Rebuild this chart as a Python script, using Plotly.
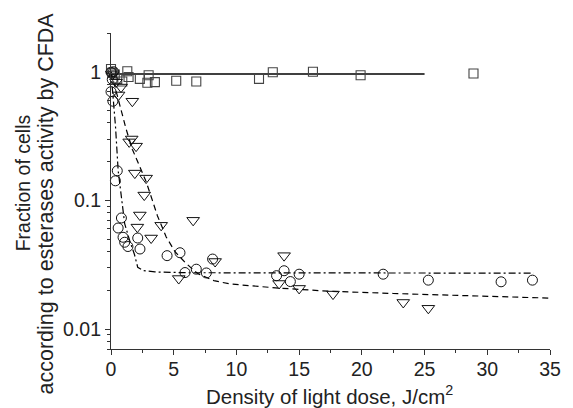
import numpy as np
import plotly.graph_objs as go

# squares: control (no light effect)
sq_x = [0, 0.1, 0.3, 0.5, 0.9, 1.3, 1.4, 2.3, 2.9, 3.0, 3.5, 5.2, 6.8, 11.8, 12.9, 16.1, 19.9, 28.9]
sq_y = [1.05, 0.98, 0.95, 0.88, 0.84, 1.01, 0.91, 0.88, 0.82, 0.94, 0.83, 0.85, 0.84, 0.88, 0.99, 1.0, 0.94, 0.97]

# triangles
tri_x = [0.1, 0.4, 0.6, 0.8, 1.7, 1.45, 1.65, 2.0, 1.9, 2.8, 2.65, 2.3, 2.1, 4.0, 6.55, 3.2,
         8.3, 5.4, 13.8, 13.4, 15.0, 17.7, 23.3, 25.3]
tri_y = [0.95, 0.83, 0.66, 0.76, 0.59, 0.285, 0.30, 0.264, 0.163, 0.149, 0.110, 0.077, 0.062, 0.064, 0.070, 0.051,
         0.0335, 0.0247, 0.0372, 0.0226, 0.0207, 0.0187, 0.0161, 0.0145]

# circles
cir_x = [0, 0.2, 0.1, 0, 0.15, 0.5, 0.35, 0.83, 0.57, 0.96, 1.09, 1.35, 2.13, 2.31, 4.47, 5.5,
         5.9, 6.8, 7.6, 8.1, 13.2, 13.8, 14.3, 15.0, 21.7, 25.3, 31.1, 33.6]
cir_y = [0.99, 1.0, 0.87, 0.70, 0.59, 0.17, 0.142, 0.073, 0.061, 0.0517, 0.0473, 0.0438, 0.051, 0.0419, 0.0372, 0.0392,
         0.0275, 0.0292, 0.0273, 0.035, 0.026, 0.0284, 0.0234, 0.0267, 0.0267, 0.024, 0.0233, 0.024]

# fitted curves
fit_sq_x = [0, 25]
fit_sq_y = [0.96, 0.96]

fit_tri_x = [0, 0.3, 0.7, 1.2, 1.7, 2.2, 2.8, 3.3, 3.7, 4.4, 5.1, 5.9, 6.9, 8.2, 9.5, 13.4, 17.3, 22.5, 27.7, 35]
fit_tri_y = [1.0, 0.78, 0.54, 0.36, 0.25, 0.19, 0.14, 0.10, 0.076, 0.052, 0.040, 0.033, 0.027, 0.0238, 0.0224,
             0.0208, 0.0197, 0.0189, 0.0182, 0.0174]

fit_cir_x = [0, 0.18, 0.36, 0.57, 0.83, 1.09, 1.48, 1.87, 2.13, 2.6, 3.5, 6.0, 33.7]
fit_cir_y = [1.0, 0.60, 0.374, 0.171, 0.10, 0.066, 0.049, 0.038, 0.0302, 0.0285, 0.0278, 0.0274, 0.0272]

x_ticks = [0, 5, 10, 15, 20, 25, 30, 35]
y_ticks = [0.01, 0.1, 1]
y_ticktext = ['0.01', '0.1', '1']
y_minor = [m * d for d in (0.001, 0.01, 0.1, 1) for m in range(2, 10)]

x_title = 'Density of light dose, J/cm<sup>2</sup>'
y_title_1 = 'Fraction of cells'
y_title_2 = 'according to esterases activity by CFDA'

FONT = 'Liberation Sans, Arial, sans-serif'
INK = '#222222'
AX = '#333333'

data = [
    go.Scatter(x=fit_sq_x, y=fit_sq_y, mode='lines',
               line={'color': 'black', 'width': 1.3}),
    go.Scatter(x=fit_tri_x, y=fit_tri_y, mode='lines',
               line={'color': 'black', 'width': 1.2, 'dash': '6px,4px'}),
    go.Scatter(x=fit_cir_x, y=fit_cir_y, mode='lines',
               line={'color': 'black', 'width': 1.2, 'dash': '7px,3px,2px,3px'}),
    go.Scatter(x=sq_x, y=sq_y, mode='markers', cliponaxis=False,
               marker={'symbol': 'square-open', 'size': 9, 'color': '#444444',
                       'line': {'width': 1.1}}),
    go.Scatter(x=tri_x, y=tri_y, mode='markers', cliponaxis=False,
               marker={'symbol': 'triangle-down-open', 'size': 11, 'color': '#111111',
                       'line': {'width': 1}}),
    go.Scatter(x=cir_x, y=cir_y, mode='markers', cliponaxis=False,
               marker={'symbol': 'circle-open', 'size': 10, 'color': '#111111',
                       'line': {'width': 1}}),
]

layout = go.Layout(
    width=573,
    height=408,
    showlegend=False,
    paper_bgcolor='white',
    plot_bgcolor='white',
    font={'family': FONT, 'size': 19.5, 'color': INK},
    margin={'l': 111, 'r': 13, 't': 33, 'b': 59},
    xaxis={
        'range': [0, 35],
        'tickvals': x_ticks,
        'ticks': 'outside',
        'ticklen': 5,
        'tickwidth': 1,
        'tickcolor': AX,
        'ticklabelstandoff': -3,
        'showline': True,
        'linecolor': AX,
        'linewidth': 1.2,
        'showgrid': False,
        'zeroline': False,
        'minor': {'dtick': 2.5, 'ticks': 'outside', 'ticklen': 3, 'tickcolor': AX},
    },
    yaxis={
        'type': 'log',
        'range': [np.log10(0.007), np.log10(2)],
        'tickvals': y_ticks,
        'ticktext': y_ticktext,
        'ticks': 'outside',
        'ticklen': 5,
        'tickwidth': 1,
        'tickcolor': AX,
        'showline': True,
        'linecolor': AX,
        'linewidth': 1.2,
        'showgrid': False,
        'zeroline': False,
        'minor': {'tickvals': y_minor, 'ticks': 'outside', 'ticklen': 3, 'tickcolor': AX},
    },
    annotations=[
        {'text': x_title, 'xref': 'paper', 'yref': 'paper',
         'x': 0.497, 'y': -0.145, 'xanchor': 'center', 'yanchor': 'middle',
         'showarrow': False, 'font': {'family': FONT, 'size': 20.5, 'color': INK}},
        {'text': y_title_1, 'xref': 'paper', 'yref': 'paper',
         'x': -0.2, 'y': 0.525, 'xanchor': 'center', 'yanchor': 'middle',
         'textangle': -90, 'showarrow': False,
         'font': {'family': FONT, 'size': 19.5, 'color': INK}},
        {'text': y_title_2, 'xref': 'paper', 'yref': 'paper',
         'x': -0.147, 'y': 0.462, 'xanchor': 'center', 'yanchor': 'middle',
         'textangle': -90, 'showarrow': False,
         'font': {'family': FONT, 'size': 21.5, 'color': INK}},
    ],
)

fig = go.Figure(data=data, layout=layout)
fig.write_html('out.html', config={'displayModeBar': False},
               post_script="document.body.style.margin = '0px';")
